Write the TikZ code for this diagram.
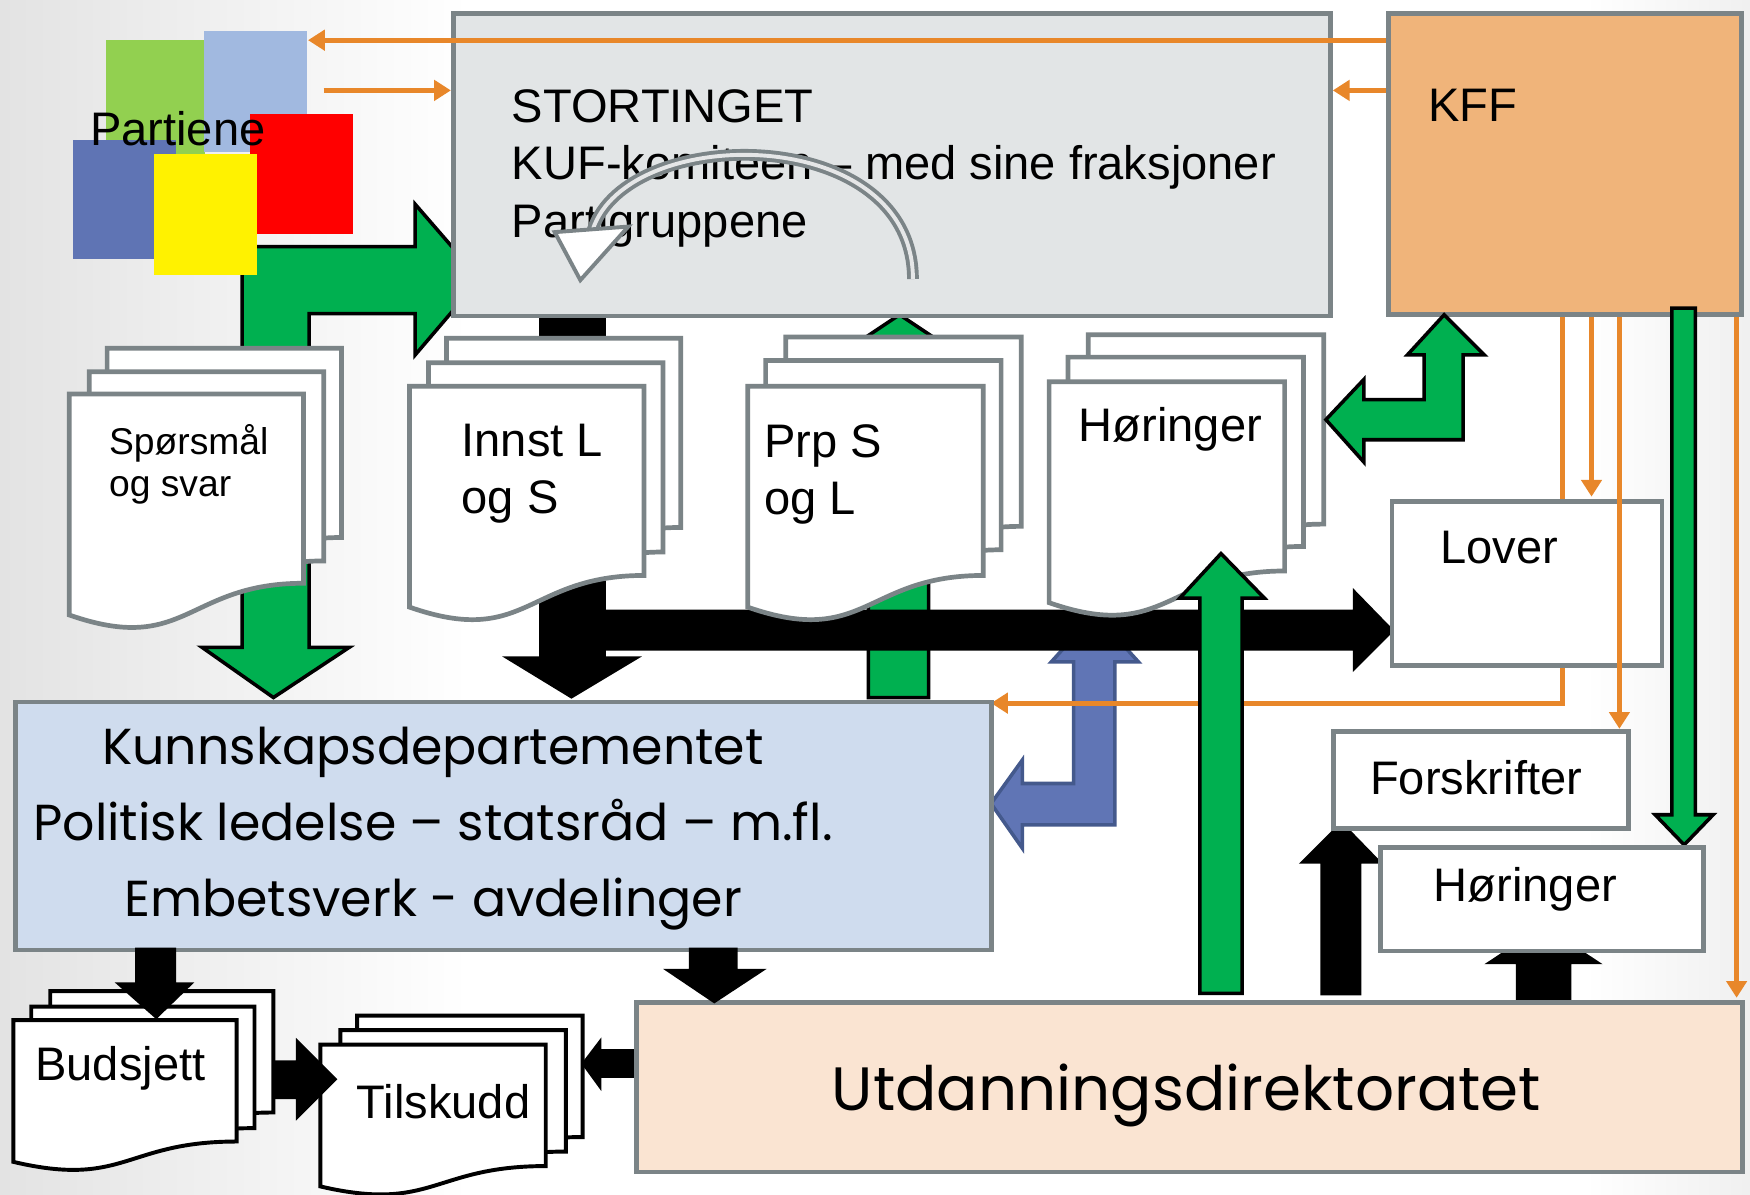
\documentclass[tikz,border=0pt]{standalone}
\usepackage{fontspec}
\setmainfont{Liberation Sans}
\newfontfamily\gothicfont{Poppins}
\usetikzlibrary{arrows.meta}

\definecolor{boxgray}{HTML}{7B8487}
\definecolor{stortfill}{HTML}{E2E5E6}
\definecolor{kfffill}{HTML}{F0B47A}
\definecolor{deptfill}{HTML}{CFDCEE}
\definecolor{udirfill}{HTML}{FAE4D2}
\definecolor{linkorange}{HTML}{E8872A}
\definecolor{pptgreen}{HTML}{00B050}
\definecolor{arrowblue}{HTML}{6075B5}
\definecolor{arrowblueline}{HTML}{44598C}
\definecolor{partgreen}{HTML}{92D050}
\definecolor{partlblue}{HTML}{A1B9E0}
\definecolor{partdblue}{HTML}{5F74B4}

% one sheet of a document stack: x, y (top left), width, height, style
\newcommand{\docsheet}[5]{%
  \filldraw[#5] (#1,#2) -- ++(#3,0) -- ++(0,0.8*#4)
    .. controls +(-0.5*#3,0) and +(0.5*#3,0.173*#4) .. ++(-#3,0.134*#4) -- cycle;}

\begin{document}
\begin{tikzpicture}[x=0.1mm, y=-0.1mm,
  box/.style={draw=boxgray, line width=1.2pt, anchor=north west, inner sep=0pt},
  doc/.style={draw=boxgray, line width=1.2pt, fill=white},
  blackdoc/.style={draw=black, line width=1pt, fill=white},
  greenarrow/.style={draw=black, line width=0.9pt, fill=pptgreen, line join=miter},
  blackarrow/.style={draw=black, line width=0.5pt, fill=black, line join=miter},
  bluearrow/.style={draw=arrowblueline, line width=0.9pt, fill=arrowblue, line join=miter},
  link/.style={draw=linkorange, line width=1.3pt, -{Triangle[length=1.5mm,width=1.8mm]}},
  label/.style={anchor=base west, inner sep=0pt, font=\fontsize{12}{14}\selectfont},
  gothic/.style={anchor=base, inner sep=0pt, font=\gothicfont\fontsize{12.9}{15}\selectfont}]

  \useasboundingbox (0,0) rectangle (1568,1070);
  \fill[white] (0,0) rectangle (1568,1070);
  \shade[left color=black!11, right color=white] (0,0) rectangle (420,1070);
  \shade[left color=white, right color=black!6] (1420,0) rectangle (1568,1070);

  % Partiene -> Stortinget and departementet
  \filldraw[greenarrow] (217,221) -- (372,221) -- (372,183) -- (430,250) -- (372,318) -- (372,281)
    -- (277,281) -- (277,580) -- (313,580) -- (245,625) -- (181,580) -- (217,580) -- cycle;

  % Partiene
  \fill[partgreen] (95,36) rectangle (184,140);
  \fill[partlblue] (183,28) rectangle (275,136);
  \fill[red] (224,102) rectangle (316,210);
  \fill[partdblue] (65,125) rectangle (158,232);
  \fill[yellow] (138,138) rectangle (230,246);
  \node[label] (partiene) at (80,130) {Partiene};

  % up to Stortinget, blue double arrow, black main arrow
  \filldraw[greenarrow] (778,625) -- (778,312) -- (761,312) -- (806,282) -- (851,312) -- (832,312) -- (832,625) -- cycle;
  \filldraw[bluearrow] (962,593) -- (942,593) -- (981,550) -- (1020,593) -- (999,593) -- (999,739)
    -- (916,739) -- (916,760) -- (888,720) -- (916,681) -- (916,702) -- (962,702) -- cycle;
  \filldraw[blackarrow] (484,280) -- (542,280) -- (542,547) -- (1213,547) -- (1213,529) -- (1248,565)
    -- (1213,600) -- (1213,582) -- (542,582) -- (542,589) -- (572,589) -- (512,625) -- (453,589) -- (484,589) -- cycle;

  % Stortinget
  \node[box, fill=stortfill, minimum width=78.6mm, minimum height=27.1mm] (storting) at (404,10) {};
  \node[label] (stortname) at (458,110) {STORTINGET};
  \node[label] (kufline) at (458,161) {KUF-komiteen – med sine fraksjoner};
  \node[label] (partiline) at (458,213) {Partigruppene};
  \draw[draw=boxgray, line width=0.35mm, double=white!80!boxgray, double distance=0.35mm]
    (818,250) .. controls (818,110) and (562,110) .. (531,206);
  \filldraw[draw=boxgray, line width=0.35mm, fill=white, line join=miter] (497,208) -- (563,203) -- (520,251) -- cycle;

  % KFF
  \node[box, fill=kfffill, minimum width=31.6mm, minimum height=27mm] (kff) at (1242,10) {};
  \node[label] (kffname) at (1279,109) {KFF};

  % orange links
  \coordinate (lblueright) at (276,36);
  \coordinate (partout) at (290,81);
  \coordinate (lawsplit) at (1400,630);
  \coordinate (lovdrop) at (1426,0);
  \coordinate (forskdrop) at (1451,0);
  \coordinate (udirdrop) at (1556,0);
  \draw[link] (kff.west |- lblueright) -- (lblueright);
  \draw[link] (partout) -- (storting.west |- partout);
  \draw[link] (kff.west |- partout) -- (storting.east |- partout);
  \draw[link] (kff.south -| lawsplit) -- (lawsplit) -- (888,630);
  \draw[link] (kff.south -| lovdrop) -- (1426,445);
  \draw[link] (kff.south -| udirdrop) -- (1556,894);

  % document stacks
  \docsheet{96}{312}{210}{212}{doc}
  \docsheet{80}{333}{210}{212}{doc}
  \docsheet{62}{353}{210}{212}{doc}
  \node[label, font=\fontsize{9.5}{11}\selectfont] (spmline) at (97,407) {Spørsmål};
  \node[label, font=\fontsize{9.5}{11}\selectfont] (svarline) at (97,445) {og svar};

  \docsheet{400}{303}{210}{212}{doc}
  \docsheet{384}{325}{210}{212}{doc}
  \docsheet{367}{346}{210}{212}{doc}
  \node[label] (innstline) at (413,409) {Innst L};
  \node[label] (innstog) at (413,460) {og S};

  \docsheet{704}{302}{211}{212}{doc}
  \docsheet{686}{323}{211}{212}{doc}
  \docsheet{670}{346}{211}{212}{doc}
  \node[label] (prpline) at (684,410) {Prp S};
  \node[label] (prpog) at (684,461) {og L};

  \docsheet{975}{300}{211}{212}{doc}
  \docsheet{957}{320}{211}{212}{doc}
  \docsheet{940}{342}{211}{212}{doc}
  \node[label] (horname) at (966,396) {Høringer};

  % green arrows
  \filldraw[greenarrow] (1075,890) -- (1075,536) -- (1057,536) -- (1094,496) -- (1133,536) -- (1113,536) -- (1113,890) -- cycle;
  \filldraw[greenarrow] (1276,318) -- (1261,318) -- (1294,282) -- (1330,318) -- (1311,318) -- (1311,394)
    -- (1222,394) -- (1222,414) -- (1188,376) -- (1222,340) -- (1222,358) -- (1276,358) -- cycle;
  \filldraw[greenarrow] (1498,276) -- (1519,276) -- (1519,730) -- (1535,730) -- (1509,757) -- (1483,730) -- (1498,730) -- cycle;

  % up from direktoratet
  \filldraw[blackarrow] (1184,891) -- (1184,773) -- (1166,773) -- (1202,737) -- (1237,773) -- (1219,773) -- (1219,891) -- cycle;
  \filldraw[blackarrow] (1359,898) -- (1359,863) -- (1333,863) -- (1383,830) -- (1433,863) -- (1407,863) -- (1407,898) -- cycle;

  % boxes
  \node[box, fill=white, minimum width=24.2mm, minimum height=14.7mm] (lover) at (1245,447) {};
  \node[label] (lovername) at (1290,505) {Lover};
  \node[box, fill=white, minimum width=26.4mm, minimum height=8.7mm] (forskr) at (1193,653) {};
  \node[label] (forskrname) at (1227,712) {Forskrifter};
  \node[box, fill=white, minimum width=28.9mm, minimum height=9.3mm] (horlow) at (1235,757) {};
  \node[label] (horlowname) at (1284,808) {Høringer};
  \draw[link] (kff.south -| forskdrop) -- (forskr.north -| forskdrop);

  \node[box, fill=deptfill, minimum width=87.4mm, minimum height=22.2mm] (dept) at (12,627) {};
  \node[gothic] (deptname) at (388,685) {Kunnskapsdepartementet};
  \node[gothic] (deptpol) at (388,753) {Politisk ledelse – statsråd – m.fl.};
  \node[gothic] (deptemb) at (388,821) {Embetsverk - avdelinger};

  \node[box, fill=udirfill, minimum width=99.1mm, minimum height=15.2mm] (udir) at (568,896) {};
  \node[gothic, font=\gothicfont\fontsize{15.6}{18}\selectfont] (udirname) at (1063,995) {Utdanningsdirektoratet};

  % budsjett and tilskudd
  \docsheet{45}{888}{200}{136}{blackdoc}
  \docsheet{28}{902}{200}{136}{blackdoc}
  \docsheet{12}{914}{200}{136}{blackdoc}
  \node[label] (budname) at (31,968) {Budsjett};
  \docsheet{320}{910}{202}{136}{blackdoc}
  \docsheet{305}{923}{202}{136}{blackdoc}
  \docsheet{287}{936}{202}{136}{blackdoc}
  \node[label] (tilname) at (319,1002) {Tilskudd};

  \filldraw[blackarrow] (122,850) -- (157,850) -- (157,881) -- (172,881) -- (140,912) -- (105,881) -- (122,881) -- cycle;
  \filldraw[blackarrow] (618,850) -- (660,850) -- (660,869) -- (684,869) -- (640,898) -- (597,869) -- (618,869) -- cycle;
  \filldraw[blackarrow] (245,951) -- (266,951) -- (266,932) -- (301,967) -- (266,1002) -- (266,984) -- (245,984) -- cycle;
  \filldraw[blackarrow] (567,941) -- (538,941) -- (538,932) -- (522,953) -- (538,975) -- (538,965) -- (567,965) -- cycle;
\end{tikzpicture}
\end{document}
